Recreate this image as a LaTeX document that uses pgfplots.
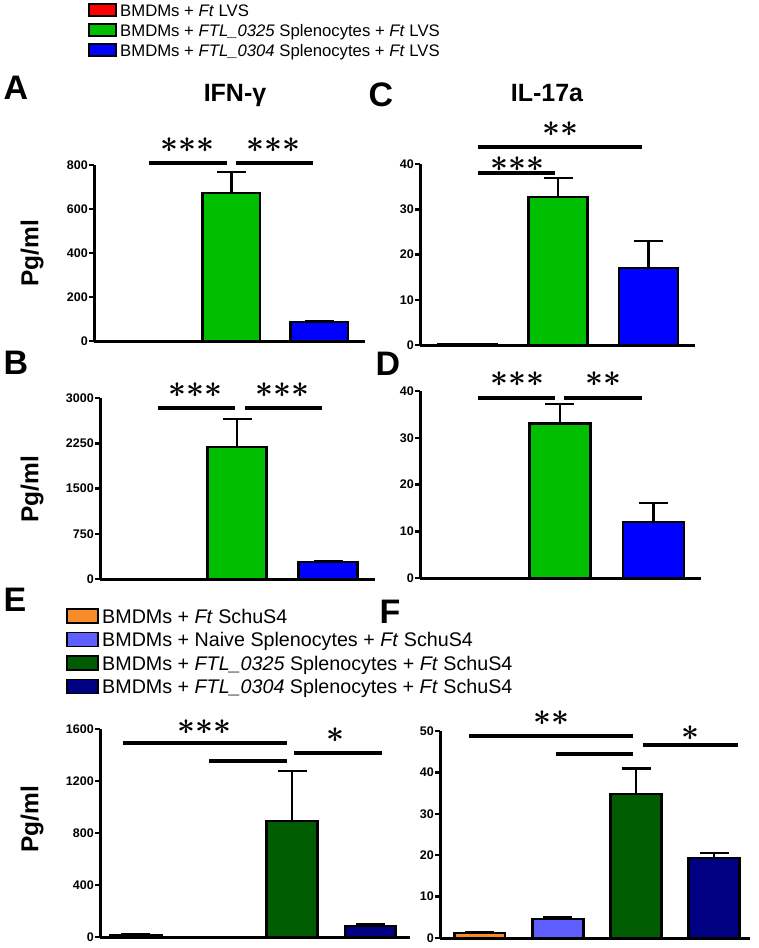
\documentclass[border=0pt]{standalone}
\usepackage{graphicx}
\usepackage{pgfplots}
\pgfplotsset{compat=1.18}
\usepackage{fontspec}
\setmainfont{Liberation Sans}
\definecolor{cred}{RGB}{255,0,0}
\definecolor{cgreen}{RGB}{0,190,0}
\definecolor{cblue}{RGB}{0,0,255}
\definecolor{corange}{RGB}{247,140,40}
\definecolor{cperi}{RGB}{95,95,255}
\definecolor{cdgreen}{RGB}{0,92,0}
\definecolor{cnavy}{RGB}{0,0,130}
\newcommand\st{\makebox[18pt]{\scalebox{1.25}{\boldmath$\ast$}}}
\tikzset{starnode/.style={font=\fontsize{24.88}{25}\selectfont, inner sep=0pt, anchor=center}}
\pgfplotsset{
 panel/.style={scale only axis, anchor=south west, clip=false,
   axis x line=bottom, axis y line=left, axis line style={line width=3pt,-},
   xtick=\empty, ymin=0, major tick length=5pt, tick align=outside,
   ytick style={line width=2.5pt, black},
   yticklabel style={font=\bfseries\fontsize{12.5}{13}\selectfont, inner sep=1pt},
   /pgf/number format/assume math mode=true, /pgf/number format/1000 sep={}},
 bar/.style={ybar, bar width=0.65, bar shift=0pt, fill=#1, draw=black, line width=2.5pt,
   error bars/.cd, y dir=plus, y explicit, error mark=|,
   error bar style={line width=2.5pt, black},
   error mark options={line width=2.5pt, black, mark size=14.5pt}},
 sig/.style={black, line width=3.5pt, forget plot},
}
\begin{document}
\begin{tikzpicture}
\useasboundingbox (0,0) rectangle (759pt,-948pt);
% ---------- top legend ----------
\begin{scope}[font=\fontsize{16.7}{18}\selectfont]
\draw[fill=cred, line width=1.5pt] (89pt,-4pt) rectangle (116pt,-16pt);
\node[anchor=base west, inner sep=0pt] at (120pt,-16pt) {BMDMs + \textit{Ft} LVS};
\draw[fill=cgreen, line width=1.5pt] (89pt,-24pt) rectangle (116pt,-36pt);
\node[anchor=base west, inner sep=0pt] at (120pt,-36pt) {BMDMs + \textit{FTL\_0325} Splenocytes + \textit{Ft} LVS};
\draw[fill=cblue, line width=1.5pt] (89pt,-44pt) rectangle (116pt,-56pt);
\node[anchor=base west, inner sep=0pt] at (120pt,-56pt) {BMDMs + \textit{FTL\_0304} Splenocytes + \textit{Ft} LVS};
\end{scope}
% ---------- E legend ----------
\begin{scope}[font=\fontsize{19.7}{21}\selectfont]
\draw[fill=corange, line width=1.5pt] (67pt,-609pt) rectangle (98pt,-623pt);
\node[anchor=base west, inner sep=0pt] at (102pt,-623pt) {BMDMs + \textit{Ft} SchuS4};
\draw[fill=cperi, line width=1.5pt] (67pt,-632.5pt) rectangle (98pt,-646.5pt);
\node[anchor=base west, inner sep=0pt] at (102pt,-646.5pt) {BMDMs + Naive Splenocytes + \textit{Ft} SchuS4};
\draw[fill=cdgreen, line width=1.5pt] (67pt,-656pt) rectangle (98pt,-670pt);
\node[anchor=base west, inner sep=0pt] at (102pt,-670pt) {BMDMs + \textit{FTL\_0325} Splenocytes + \textit{Ft} SchuS4};
\draw[fill=cnavy, line width=1.5pt] (67pt,-679.5pt) rectangle (98pt,-693.5pt);
\node[anchor=base west, inner sep=0pt] at (102pt,-693.5pt) {BMDMs + \textit{FTL\_0304} Splenocytes + \textit{Ft} SchuS4};
\end{scope}
% ---------- panel letters, titles, y labels ----------
\begin{scope}[font=\bfseries\fontsize{34}{34}\selectfont]
\node[inner sep=0pt] at (16pt,-88pt) {A};
\node[inner sep=0pt] at (16pt,-363pt) {B};
\node[inner sep=0pt] at (381pt,-95pt) {C};
\node[inner sep=0pt] at (388pt,-364pt) {D};
\node[inner sep=0pt] at (15pt,-600pt) {E};
\node[inner sep=0pt] at (390pt,-612pt) {F};
\end{scope}
\begin{scope}[font=\bfseries\fontsize{25}{26}\selectfont]
\node[anchor=base, inner sep=0pt] at (235pt,-101pt) {IFN-γ};
\node[anchor=base, inner sep=0pt] at (547pt,-101pt) {IL-17a};
\end{scope}
\begin{scope}[font=\bfseries\fontsize{24.5}{26}\selectfont]
\node[rotate=90, inner sep=0pt] at (32pt,-253pt) {Pg/ml};
\node[rotate=90, inner sep=0pt] at (32pt,-489pt) {Pg/ml};
\node[rotate=90, inner sep=0pt] at (32pt,-819pt) {Pg/ml};
\end{scope}
% ---------- Panel A ----------
\begin{axis}[panel, at={(94pt,-341pt)}, width=271pt, height=176pt,
  xmin=-0.56, xmax=2.52, ymax=800, ytick={0,200,400,600,800}]
\addplot[bar=cred] coordinates {(0,0) +- (0,0)};
\addplot[bar=cgreen] coordinates {(1,673) +- (0,95)};
\addplot[bar=cblue] coordinates {(2,86) +- (0,2)};
\addplot[sig] coordinates {(0.0625,809) (0.949,809)};
\addplot[sig] coordinates {(1.051,809) (1.926,809)};
\node[starnode] at (axis cs:0.506,891) {\st\st\st};
\node[starnode] at (axis cs:1.483,891) {\st\st\st};
\end{axis}
% ---------- Panel B ----------
\begin{axis}[panel, at={(100pt,-579pt)}, width=275pt, height=181pt,
  xmin=-0.505, xmax=2.516, ymax=3000, ytick={0,750,1500,2250,3000}]
\addplot[bar=cred] coordinates {(0,0) +- (0,0)};
\addplot[bar=cgreen] coordinates {(1,2190) +- (0,460)};
\addplot[bar=cblue] coordinates {(2,282) +- (0,20)};
\addplot[sig] coordinates {(0.132,2834) (0.978,2834)};
\addplot[sig] coordinates {(1.088,2834) (1.934,2834)};
\node[starnode] at (axis cs:0.538,3132) {\st\st\st};
\node[starnode] at (axis cs:1.495,3132) {\st\st\st};
\end{axis}
% ---------- Panel C ----------
\begin{axis}[panel, at={(420pt,-345pt)}, width=275pt, height=181pt,
  xmin=-0.525, xmax=2.514, ymax=40, ytick={0,10,20,30,40}]
\addplot[bar=cred] coordinates {(0,0.2) +- (0,0)};
\addplot[bar=cgreen] coordinates {(1,32.7) +- (0,4.2)};
\addplot[bar=cblue] coordinates {(2,17.0) +- (0,6.0)};
\addplot[sig] coordinates {(0.116,38.0) (0.967,38.0)};
\addplot[sig] coordinates {(0.116,43.75) (1.928,43.75)};
\node[starnode] at (axis cs:0.547,40.0) {\st\st\st};
\node[starnode] at (axis cs:1.022,47.7) {\st\st};
\end{axis}
% ---------- Panel D ----------
\begin{axis}[panel, at={(420pt,-578pt)}, width=281pt, height=187pt,
  xmin=-0.497, xmax=2.508, ymax=40, ytick={0,10,20,30,40}]
\addplot[bar=cred] coordinates {(0,0) +- (0,0)};
\addplot[bar=cgreen] coordinates {(1,33.1) +- (0,4.1)};
\addplot[bar=cblue] coordinates {(2,12.0) +- (0,4.0)};
\addplot[sig] coordinates {(0.123,38.5) (0.947,38.5)};
\addplot[sig] coordinates {(1.043,38.5) (1.877,38.5)};
\node[starnode] at (axis cs:0.54,42.6) {\st\st\st};
\node[starnode] at (axis cs:1.46,42.6) {\st\st};
\end{axis}
% ---------- Panel E ----------
\begin{axis}[panel, at={(100pt,-937pt)}, width=310pt, height=208pt,
  xmin=-0.46, xmax=3.51, ymax=1600, ytick={0,400,800,1200,1600}]
\addplot[bar=corange] coordinates {(0,15) +- (0,5)};
\addplot[bar=cperi] coordinates {(1,0) +- (0,0)};
\addplot[bar=cdgreen] coordinates {(2,892) +- (0,385)};
\addplot[bar=cnavy] coordinates {(3,85) +- (0,15)};
\addplot[sig] coordinates {(-0.167,1492) (1.936,1492)};
\addplot[sig] coordinates {(0.936,1354) (1.936,1354)};
\addplot[sig] coordinates {(2.026,1415) (3.154,1415)};
\node[starnode] at (axis cs:0.872,1615) {\st\st\st};
\node[starnode] at (axis cs:2.551,1554) {\st};
\end{axis}
% ---------- Panel F ----------
\begin{axis}[panel, at={(440pt,-938pt)}, width=310pt, height=207pt,
  xmin=-0.51, xmax=3.46, ymax=50, ytick={0,10,20,30,40,50}]
\addplot[bar=corange] coordinates {(0,1.2) +- (0,0.2)};
\addplot[bar=cperi] coordinates {(1,4.6) +- (0,0.4)};
\addplot[bar=cdgreen] coordinates {(2,34.8) +- (0,6.2)};
\addplot[bar=cnavy] coordinates {(3,19.3) +- (0,1.2)};
\addplot[sig] coordinates {(-0.141,48.8) (1.962,48.8)};
\addplot[sig] coordinates {(0.974,44.4) (1.962,44.4)};
\addplot[sig] coordinates {(2.09,46.6) (3.308,46.6)};
\node[starnode] at (axis cs:0.923,53.1) {\st\st};
\node[starnode] at (axis cs:2.692,49.5) {\st};
\end{axis}
\end{tikzpicture}
\end{document}
